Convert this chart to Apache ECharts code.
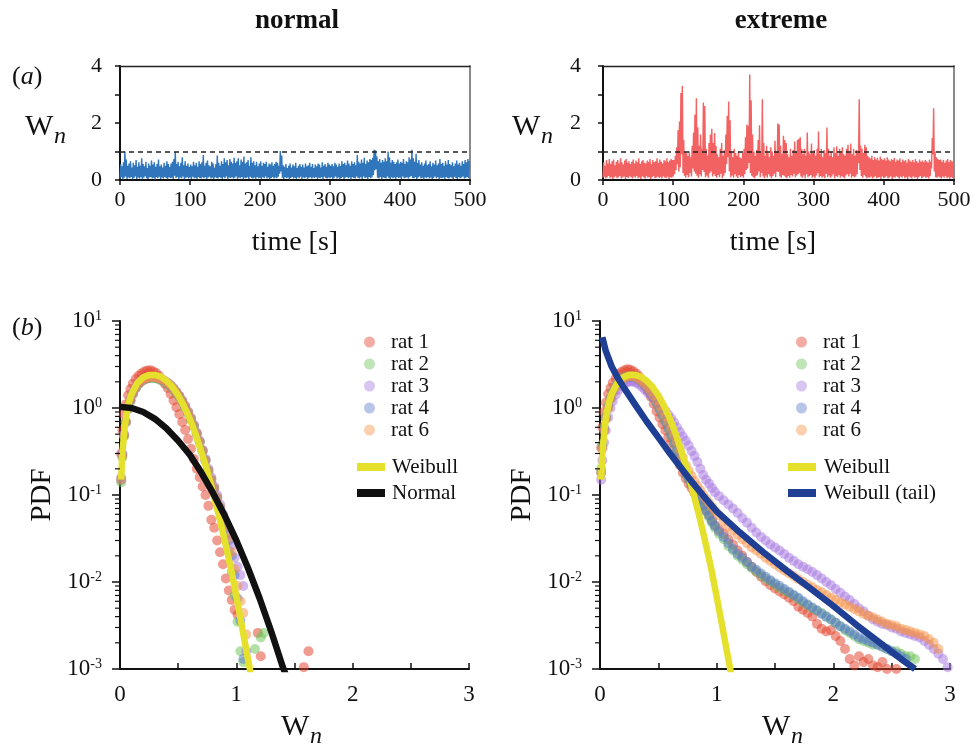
<!DOCTYPE html>
<html><head><meta charset="utf-8">
<script src="https://cdn.jsdelivr.net/npm/echarts@6/dist/echarts.min.js"></script>
<style>html,body{margin:0;padding:0;background:#fff}#c{width:977px;height:746px}</style>
</head><body><div id="c"></div>
<script>
// ---------------- DATA ----------------
const timeStep = 2; // seconds per bin (each bin: min and max of W_n)
const threshold = 1;

const normalHi = [
0.55,0.48,0.62,1.00,0.72,0.50,0.58,0.66,0.44,0.60,
0.52,0.70,0.46,0.62,0.50,0.76,0.56,0.48,0.64,0.42,
0.58,0.50,0.68,0.54,0.62,0.46,0.56,0.72,0.48,0.54,
0.44,0.60,0.50,0.66,0.56,0.46,0.58,0.64,0.74,0.98,
0.56,0.64,0.48,0.60,0.80,0.52,0.66,0.50,0.58,0.46,
0.54,0.48,0.64,0.52,0.60,0.46,0.66,0.56,0.62,0.88,
0.50,0.60,0.68,0.52,0.48,0.64,0.58,0.44,0.56,0.86,
0.60,0.50,0.66,0.56,0.76,0.62,0.70,0.52,0.74,0.64,
0.58,0.78,0.60,0.66,0.76,0.52,0.72,0.64,0.82,0.58,
0.62,0.70,0.50,0.80,0.60,0.66,0.52,0.64,0.48,0.58,
0.66,0.50,0.60,0.56,0.64,0.46,0.58,0.54,0.62,0.50,
0.56,0.64,0.60,0.50,1.02,0.86,0.52,0.46,0.56,0.42,
0.50,0.58,0.44,0.54,0.48,0.60,0.42,0.50,0.56,0.46,
0.54,0.44,0.58,0.48,0.52,0.60,0.46,0.56,0.42,0.54,
0.48,0.58,0.54,0.44,0.62,0.50,0.56,0.46,0.60,0.54,
0.50,0.56,0.48,0.60,0.54,0.46,0.58,0.50,0.66,0.56,
0.60,0.52,0.68,0.58,0.50,0.66,0.56,0.62,0.52,0.88,
0.64,0.58,0.72,0.60,0.78,0.56,0.68,0.62,0.74,0.70,
0.78,1.06,1.04,0.82,0.66,0.74,0.60,0.70,0.64,0.76,
0.66,1.00,0.80,0.60,0.70,0.64,0.56,0.62,0.72,0.58,
0.64,0.60,0.74,0.56,0.66,0.62,0.80,0.72,1.06,0.76,
0.64,0.92,0.60,0.70,0.54,0.62,0.50,0.58,0.68,0.52,
0.56,0.66,0.48,0.60,0.54,0.68,0.52,0.58,0.74,0.56,
0.60,0.50,0.66,0.54,0.70,0.56,0.52,0.62,0.48,0.58,
0.68,0.54,0.60,0.50,0.66,0.56,0.70,0.62,0.74,0.66];
const normalLo = [
0.05,0.10,0.03,0.08,0.12,0.04,0.09,0.06,0.11,0.03,
0.07,0.12,0.04,0.09,0.05,0.10,0.03,0.08,0.13,0.06,
0.04,0.09,0.11,0.05,0.08,0.03,0.10,0.06,0.12,0.04,
0.09,0.05,0.11,0.07,0.03,0.10,0.06,0.08,0.04,0.15,
0.07,0.11,0.04,0.09,0.06,0.12,0.03,0.08,0.10,0.05,
0.09,0.04,0.12,0.06,0.08,0.03,0.11,0.07,0.05,0.10,
0.06,0.10,0.04,0.09,0.12,0.05,0.08,0.03,0.10,0.07,
0.05,0.11,0.08,0.04,0.10,0.06,0.12,0.03,0.09,0.07,
0.10,0.05,0.08,0.12,0.04,0.09,0.06,0.11,0.03,0.08,
0.06,0.10,0.04,0.12,0.07,0.05,0.09,0.03,0.11,0.06,
0.08,0.04,0.10,0.06,0.12,0.05,0.09,0.03,0.07,0.11,
0.05,0.09,0.06,0.12,0.22,0.30,0.08,0.04,0.10,0.06,
0.09,0.03,0.07,0.11,0.05,0.08,0.04,0.10,0.06,0.12,
0.04,0.09,0.06,0.11,0.03,0.08,0.10,0.05,0.09,0.07,
0.11,0.04,0.08,0.06,0.10,0.03,0.12,0.07,0.05,0.09,
0.06,0.10,0.04,0.08,0.12,0.05,0.09,0.03,0.07,0.11,
0.04,0.08,0.11,0.06,0.09,0.03,0.10,0.07,0.05,0.12,
0.08,0.05,0.10,0.04,0.12,0.07,0.09,0.03,0.11,0.06,
0.10,0.18,0.34,0.38,0.08,0.05,0.11,0.04,0.09,0.07,
0.05,0.12,0.08,0.03,0.10,0.06,0.09,0.04,0.11,0.07,
0.09,0.04,0.12,0.06,0.08,0.10,0.05,0.11,0.14,0.07,
0.06,0.10,0.04,0.09,0.12,0.05,0.08,0.03,0.10,0.06,
0.11,0.05,0.09,0.04,0.07,0.12,0.06,0.10,0.03,0.08,
0.06,0.09,0.04,0.11,0.07,0.05,0.10,0.08,0.03,0.12,
0.07,0.04,0.10,0.06,0.09,0.12,0.05,0.08,0.11,0.06];

const extremeHi = [
0.62,0.50,0.70,0.58,0.74,0.56,0.66,0.72,0.52,0.64,
0.70,0.58,0.76,0.62,0.54,0.68,0.74,0.60,0.66,0.56,
0.64,0.72,0.58,0.68,0.62,0.76,0.56,0.66,0.70,0.60,
0.58,0.68,0.64,0.74,0.56,0.70,0.62,0.66,0.76,0.60,
0.72,0.64,0.58,0.70,0.66,0.76,0.62,0.68,0.74,0.70,
0.70,0.85,1.15,1.75,2.05,3.05,3.30,1.40,1.00,0.95,
0.85,1.00,0.80,1.20,1.67,2.30,2.87,1.85,1.20,1.60,
1.10,2.72,2.60,1.10,0.85,1.30,1.60,1.80,1.30,1.65,
1.20,0.90,0.80,1.10,1.30,0.85,1.05,1.60,2.25,2.75,
2.10,1.00,0.80,1.10,0.95,0.85,1.00,0.80,0.75,0.95,
1.10,1.50,1.95,1.90,3.70,2.80,1.60,1.00,0.85,1.05,
1.40,1.92,1.00,2.83,1.30,0.85,1.20,0.95,0.80,1.15,
1.00,0.85,1.38,1.00,1.98,1.95,1.20,0.90,1.55,1.40,
1.30,0.90,0.80,1.10,0.85,1.05,1.35,1.00,1.40,1.45,
1.50,1.10,0.90,1.10,0.85,1.67,1.00,0.90,1.28,0.95,
1.05,0.85,1.10,1.70,0.90,1.10,0.80,1.05,0.95,1.84,
1.10,0.85,1.00,0.80,1.15,0.95,1.18,0.85,1.10,0.95,
1.15,0.90,0.85,1.10,1.24,0.95,1.28,0.90,1.10,0.85,
1.05,0.95,2.83,1.20,1.10,0.95,1.24,1.15,0.85,0.80,
0.75,0.85,0.70,0.80,0.72,0.78,0.68,0.82,0.74,0.70,
0.76,0.68,0.80,0.72,0.66,0.74,0.70,0.78,0.64,0.72,
0.68,0.76,0.62,0.72,0.66,0.70,0.60,0.74,0.68,0.64,
0.70,0.62,0.74,0.66,0.60,0.72,0.64,0.68,0.62,0.70,
0.66,0.60,0.72,0.64,1.47,2.52,1.00,0.80,0.74,0.70,
0.72,0.64,0.70,0.60,0.68,0.74,0.62,0.70,0.66,0.64];
const extremeLo = [
0.08,0.12,0.05,0.10,0.14,0.06,0.11,0.04,0.09,0.13,
0.06,0.10,0.14,0.05,0.09,0.12,0.04,0.11,0.07,0.13,
0.10,0.05,0.12,0.08,0.14,0.06,0.10,0.04,0.12,0.09,
0.05,0.13,0.08,0.11,0.04,0.10,0.14,0.06,0.09,0.12,
0.07,0.11,0.05,0.13,0.09,0.06,0.12,0.04,0.10,0.08,
0.12,0.20,0.35,0.55,0.30,0.45,0.90,0.25,0.15,0.08,
0.18,0.10,0.25,0.12,0.40,0.30,0.22,0.15,0.08,0.20,
0.12,0.35,0.28,0.10,0.16,0.08,0.24,0.30,0.12,0.20,
0.14,0.08,0.18,0.10,0.22,0.06,0.15,0.25,0.55,0.80,
0.30,0.10,0.16,0.08,0.20,0.12,0.06,0.18,0.10,0.14,
0.08,0.20,0.35,0.40,0.60,0.25,0.15,0.10,0.06,0.14,
0.18,0.30,0.10,0.25,0.12,0.06,0.16,0.08,0.20,0.12,
0.06,0.14,0.22,0.10,0.30,0.28,0.12,0.08,0.18,0.15,
0.10,0.06,0.14,0.08,0.18,0.12,0.22,0.10,0.16,0.20,
0.25,0.12,0.08,0.16,0.06,0.20,0.10,0.14,0.18,0.08,
0.12,0.06,0.16,0.25,0.10,0.14,0.08,0.12,0.06,0.22,
0.10,0.16,0.08,0.12,0.20,0.06,0.14,0.10,0.18,0.08,
0.14,0.10,0.06,0.16,0.20,0.12,0.22,0.08,0.14,0.10,
0.12,0.20,0.60,0.35,0.14,0.08,0.18,0.12,0.06,0.10,
0.08,0.12,0.05,0.10,0.13,0.06,0.09,0.11,0.04,0.12,
0.06,0.10,0.13,0.05,0.09,0.12,0.04,0.11,0.08,0.13,
0.10,0.05,0.12,0.08,0.14,0.06,0.10,0.04,0.12,0.09,
0.05,0.13,0.08,0.11,0.04,0.10,0.14,0.06,0.09,0.12,
0.07,0.11,0.05,0.13,0.40,0.90,0.30,0.10,0.08,0.12,
0.09,0.05,0.12,0.08,0.14,0.06,0.10,0.04,0.11,0.07];

// PDF histogram bin centres
const binsNormal = [0.01,0.02,0.035,0.05,0.07,0.09,
0.11,0.135,0.16,0.185,0.21,0.235,0.26,0.285,0.31,0.335,
0.36,0.385,0.41,0.435,0.46,0.485,0.51,0.535,0.56,0.585,
0.61,0.635,0.66,0.685,0.71,0.735,0.76,0.785,0.81,0.835,
0.86,0.885,0.91,0.935,0.96,0.985,1.01,1.035,1.06,1.085,
1.11,1.135,1.16,1.185,1.21,1.235,
1.26,1.30,1.34,1.38,1.42,1.46,1.50,1.54,1.58,1.62,1.66];
const binsExtreme = [0.01,0.02,0.035,0.05,0.07,0.09,
0.11,0.135,0.16,0.185,0.21,0.235,0.26,0.285,0.31,0.335,
0.36,0.385,0.41,0.435,0.46,0.485,0.51,0.535,0.56,0.585,
0.61,0.635,0.66,0.685,0.71,0.735,0.76,0.785,0.81,0.835,
0.86,0.885,0.91,0.935,0.96,0.985,
1.02,1.06,1.10,1.14,1.18,1.22,1.26,1.30,1.34,1.38,
1.42,1.46,1.50,1.54,1.58,1.62,1.66,1.70,1.74,1.78,
1.82,1.86,1.90,1.94,1.98,2.02,2.06,2.10,2.14,2.18,
2.22,2.26,2.30,2.34,2.38,2.42,2.46,2.50,2.54,2.58,
2.62,2.66,2.70,2.74,2.78,2.82,2.86,2.90,2.94,2.98];

const ratNames = ['rat 1','rat 2','rat 3','rat 4','rat 6'];

const normalRat1 = [0.3,0.55,0.85,1.1,1.4,1.65,
1.9,2.15,2.35,2.5,2.62,2.7,2.72,2.65,2.52,2.35,
2.12,1.9,1.7,1.45,1.22,1.02,0.85,0.69,0.56,0.44,
0.34,0.26,0.2,0.16,0.125,0.1,0.075,0.052,0.042,0.03,
0.022,0.016,0.011,0.008,0.0062,0.0048,0.0042,null,null,null,
null,null,null,0.0026,0.0014,null,
null,null,null,null,null,null,null,null,0.00105,0.0016,null];
const normalRat2 = [0.14,0.27,0.47,0.68,0.97,1.2,
1.44,1.68,1.88,2.02,2.12,2.18,2.2,2.2,2.18,2.13,
2.06,1.97,1.87,1.75,1.62,1.47,1.32,1.16,1.0,0.86,
0.73,0.61,0.5,0.4,0.32,0.25,0.19,0.15,0.12,0.092,
0.07,0.052,0.036,0.023,0.013,0.007,0.0035,0.0016,0.0012,null,
null,null,0.0017,null,0.0023,0.0026];
const normalRat3 = [0.16,0.3,0.5,0.7,1.0,1.24,
1.47,1.72,1.92,2.06,2.16,2.22,2.26,2.27,2.25,2.2,
2.13,2.04,1.94,1.82,1.69,1.54,1.38,1.22,1.06,0.91,
0.77,0.64,0.52,0.42,0.33,0.26,0.2,0.16,0.125,0.1,
0.078,0.06,0.046,0.035,0.026,0.019,0.015,0.012,0.009,0.0016];
const normalRat4 = [0.15,0.29,0.49,0.69,0.98,1.22,
1.46,1.7,1.9,2.04,2.14,2.2,2.24,2.25,2.23,2.18,
2.1,2.02,1.92,1.8,1.66,1.51,1.36,1.2,1.04,0.89,
0.75,0.62,0.51,0.41,0.32,0.25,0.19,0.15,0.118,0.093,
0.072,0.055,0.042,0.03,0.02,0.012,0.0065,0.0036,0.0013];
const normalRat6 = [0.15,0.28,0.48,0.69,0.99,1.23,
1.46,1.71,1.91,2.05,2.15,2.21,2.25,2.26,2.24,2.19,
2.12,2.03,1.93,1.81,1.67,1.52,1.36,1.2,1.05,0.9,
0.76,0.63,0.51,0.41,0.32,0.25,0.19,0.15,0.12,0.094,
0.073,0.056,0.043,0.032,0.022,0.014,0.009,0.006,0.0044,0.0025];

const extremeRat1 = [0.35,0.6,0.9,1.15,1.45,1.7,
1.95,2.2,2.45,2.6,2.72,2.78,2.75,2.65,2.5,2.3,
2.05,1.8,1.58,1.35,1.12,0.92,0.78,0.65,0.55,0.46,
0.4,0.33,0.27,0.22,0.18,0.155,0.135,0.12,0.105,0.093,
0.083,0.075,0.066,0.058,0.051,0.045,
0.04,0.036,0.031,0.027,0.023,0.02,0.017,0.015,0.013,0.0115,
0.0102,0.0092,0.0084,0.0078,0.0072,0.0066,0.006,0.0052,0.0048,0.0044,
0.004,0.0033,0.0029,0.0027,0.0028,0.0024,0.0021,0.0017,0.0013,0.0011,
0.0014,0.0012,0.0013,0.0011,0.00105,0.0012,0.001,null,0.001];
const extremeRat2 = [0.2,0.38,0.6,0.8,1.05,1.3,
1.55,1.8,2.0,2.15,2.25,2.3,2.32,2.3,2.25,2.15,
2.0,1.85,1.68,1.5,1.32,1.15,0.98,0.83,0.7,0.58,
0.48,0.39,0.32,0.26,0.21,0.175,0.15,0.13,0.112,0.098,
0.085,0.074,0.064,0.055,0.048,0.042,
0.036,0.031,0.026,0.023,0.02,0.018,0.016,0.0145,0.0132,0.012,
0.011,0.0102,0.0093,0.0086,0.008,0.0075,0.007,0.0064,0.0058,0.0054,
0.005,0.0047,0.0044,0.004,0.0037,0.0034,0.0031,0.0028,0.0026,0.0024,
0.0022,0.0021,0.002,0.0019,0.0019,0.0018,0.0017,0.0016,0.0016,0.0015,
0.0014,0.0014,0.0013];
const extremeRat3 = [0.15,0.25,0.4,0.55,0.78,1.0,
1.2,1.42,1.62,1.78,1.9,1.98,2.02,2.0,1.95,1.86,
1.75,1.62,1.5,1.4,1.3,1.22,1.12,1.02,0.93,0.84,
0.76,0.68,0.6,0.53,0.47,0.42,0.37,0.32,0.28,0.24,
0.2,0.17,0.15,0.135,0.12,0.108,
0.097,0.087,0.078,0.07,0.062,0.054,0.048,0.042,0.037,0.033,
0.03,0.027,0.025,0.023,0.021,0.019,0.0175,0.016,0.015,0.014,
0.013,0.012,0.011,0.01,0.0092,0.0083,0.0075,0.0068,0.0062,0.0056,
0.005,0.0046,0.0041,0.0037,0.0035,0.0033,0.0032,0.003,0.0029,0.0027,
0.0026,0.0025,0.0024,0.0023,0.0021,0.0019,0.0017,0.0015,0.0013,0.00105];
const extremeRat4 = [0.18,0.35,0.56,0.76,1.02,1.27,
1.52,1.77,1.97,2.12,2.22,2.27,2.29,2.27,2.22,2.12,
1.98,1.83,1.66,1.49,1.31,1.14,0.98,0.83,0.7,0.59,
0.49,0.4,0.33,0.27,0.22,0.18,0.155,0.135,0.116,0.1,
0.088,0.077,0.067,0.058,0.05,0.044,
0.038,0.033,0.028,0.024,0.021,0.019,0.017,0.015,0.0138,0.0125,
0.0115,0.0105,0.0097,0.009,0.0083,0.0077,0.0071,0.0066,0.006,0.0055,
0.0051,0.0047,0.0043,0.004,0.0037,0.0034,0.0031,0.0029,0.0027,0.0025,
0.0023,0.0022,0.0021,0.002,0.0019,0.0018,0.0017,0.0016,0.0015,0.0014,
0.0013];
const extremeRat6 = [0.18,0.34,0.55,0.75,1.0,1.25,
1.5,1.75,1.95,2.1,2.22,2.3,2.33,2.3,2.24,2.14,
2.0,1.86,1.7,1.54,1.38,1.22,1.07,0.93,0.8,0.68,
0.57,0.48,0.4,0.33,0.27,0.22,0.19,0.165,0.145,0.128,
0.113,0.1,0.09,0.081,0.073,0.066,
0.058,0.05,0.044,0.039,0.035,0.031,0.028,0.025,0.023,0.021,
0.019,0.0175,0.016,0.0147,0.0136,0.0126,0.0117,0.0108,0.01,0.0093,
0.0087,0.0081,0.0076,0.0071,0.0066,0.0062,0.0058,0.0055,0.0052,0.0049,
0.0046,0.0043,0.0041,0.0039,0.0037,0.0035,0.0033,0.0032,0.0031,0.0029,
0.0028,0.0027,0.0026,0.0025,0.0024,0.0022,0.002,0.0017];

// fitted curves
const weibullX = [0.01,0.02,0.04,0.06,0.08,0.1,0.15,0.2,0.25,0.3,0.35,0.4,0.45,0.5,0.55,0.6,0.65,0.7,0.75,0.8,0.85,0.9,0.95,1.0,1.05,1.1,1.13];
const weibullY = [0.15,0.3,0.6,0.9,1.2,1.45,1.95,2.25,2.4,2.4,2.3,2.05,1.75,1.4,1.05,0.75,0.5,0.31,0.19,0.105,0.058,0.03,0.015,0.0068,0.003,0.0013,0.0008];
const normalFitX = [0,0.1,0.2,0.3,0.4,0.5,0.6,0.7,0.8,0.9,1.0,1.1,1.2,1.3,1.4,1.45];
const normalFitY = [1.03,1.0,0.9,0.75,0.58,0.42,0.29,0.18,0.105,0.058,0.03,0.0145,0.0065,0.0027,0.00105,0.0007];
const tailFitX = [0.02,0.05,0.1,0.15,0.2,0.3,0.4,0.5,0.6,0.7,0.8,0.9,1.0,1.2,1.4,1.6,1.8,2.0,2.2,2.4,2.6,2.7];
const tailFitY = [6.5,4.5,3.0,2.25,1.75,1.1,0.7,0.46,0.3,0.2,0.135,0.093,0.065,0.037,0.022,0.0135,0.0085,0.0053,0.0032,0.002,0.00125,0.001];

const minorTickValues = [0.002,0.003,0.004,0.005,0.006,0.007,0.008,0.009,
0.02,0.03,0.04,0.05,0.06,0.07,0.08,0.09,
0.2,0.3,0.4,0.5,0.6,0.7,0.8,0.9,
2,3,4,5,6,7,8,9];

// ---------------- STYLE ----------------
const FONT = 'Liberation Serif';
const INK = '#111';
const ratRGB = ['226,66,44','110,196,88','168,122,224','92,124,206','248,146,70'];
const dotAlpha = 0.66, legendAlpha = 0.55;

function interleave(hi, lo){
  const d = [];
  hi.forEach((h,i)=>{ d.push([i*timeStep, lo[i]]); d.push([i*timeStep + timeStep/2, h]); });
  return d;
}
function pairs(xs, ys){
  const d = [];
  ys.forEach((y,i)=>{ if (y !== null && y !== undefined) d.push([xs[i], y]); });
  return d;
}
function zipXY(xs, ys){ return xs.map((x,i)=>[x, ys[i]]); }

const grids = [
  {left:120, top:66, width:350, height:114},
  {left:603, top:66, width:351, height:114},
  {left:120, top:321, width:349, height:348},
  {left:600, top:321, width:350, height:348}
];

function timeX(gi){
  return {type:'value', gridIndex:gi, min:0, max:500, interval:100, position:'bottom',
    axisLine:{onZero:false, lineStyle:{color:INK, width:2}},
    axisTick:{inside:false, length:5, lineStyle:{color:INK, width:1.5}},
    axisLabel:{fontFamily:FONT, fontSize:22, color:INK, margin:9},
    splitLine:{show:false}};
}
function wX(gi){
  return {type:'value', gridIndex:gi, min:0, max:3, interval:0.5, position:'bottom',
    axisLine:{onZero:false, lineStyle:{color:INK, width:2}},
    axisTick:{inside:true, length:6, lineStyle:{color:INK, width:1.5}},
    axisLabel:{fontFamily:FONT, fontSize:23, color:INK, margin:14,
      formatter: v => (Math.abs(v - Math.round(v)) < 1e-9 ? String(Math.round(v)) : '')},
    splitLine:{show:false}};
}
function borderX(gi){
  return {type:'value', gridIndex:gi, min:0, max:500, position:'top',
    axisLine:{onZero:false, lineStyle:{color:'#222', width:1.3}},
    axisTick:{show:false}, axisLabel:{show:false}, splitLine:{show:false}};
}
function wnY(gi, margin){
  return {type:'value', gridIndex:gi, min:0, max:4, interval:1,
    axisLine:{onZero:false, lineStyle:{color:INK, width:2}},
    axisTick:{inside:false, length:5, lineStyle:{color:INK, width:1.5}},
    axisLabel:{fontFamily:FONT, fontSize:22, color:INK, margin:margin,
      formatter: v => (v % 2 === 0 ? String(v) : '')},
    splitLine:{show:false}};
}
function borderY(gi){
  return {type:'value', gridIndex:gi, min:0, max:4, position:'right',
    axisLine:{onZero:false, lineStyle:{color:'#8a8a8a', width:2}},
    axisTick:{show:false}, axisLabel:{show:false}, splitLine:{show:false}};
}
function pdfY(gi){
  return {type:'log', logBase:10, gridIndex:gi, min:0.001, max:10,
    axisLine:{onZero:false, lineStyle:{color:INK, width:2}},
    axisTick:{inside:false, length:8, lineStyle:{color:INK, width:1.5}},
    axisLabel:{margin:18, color:INK,
      formatter: v => '{b|10}{s|' + Math.round(Math.log10(v)) + '}',
      rich:{ b:{fontFamily:FONT, fontSize:23, color:INK, lineHeight:24},
             s:{fontFamily:FONT, fontSize:14, color:INK, lineHeight:14, verticalAlign:'top'} }},
    splitLine:{show:false}};
}

const series = [];
// top time series
series.push({type:'line', name:'normal-ts', xAxisIndex:0, yAxisIndex:0, data:interleave(normalHi, normalLo),
  showSymbol:false, symbol:'none', sampling:null, lineStyle:{color:'#2f76bc', width:1.4}, itemStyle:{color:'#2f76bc'},
  markLine:{silent:true, symbol:'none', label:{show:false}, lineStyle:{color:'#222', type:[5,4], width:1.5}, data:[{yAxis:threshold}]}, z:3});
series.push({type:'line', name:'extreme-ts', xAxisIndex:1, yAxisIndex:1, data:interleave(extremeHi, extremeLo),
  showSymbol:false, symbol:'none', sampling:null, lineStyle:{color:'#f26262', width:1.4}, itemStyle:{color:'#f26262'},
  markLine:{silent:true, symbol:'none', label:{show:false}, lineStyle:{color:'#222', type:[5,4], width:1.5}, data:[{yAxis:threshold}]}, z:3});

const normalRats = [normalRat1, normalRat2, normalRat3, normalRat4, normalRat6];
const extremeRats = [extremeRat1, extremeRat2, extremeRat3, extremeRat4, extremeRat6];
ratNames.forEach((nm, k)=>{
  series.push({type:'scatter', name:nm, xAxisIndex:2, yAxisIndex:2, data:pairs(binsNormal, normalRats[k]),
    symbolSize:10, itemStyle:{color:'rgba('+ratRGB[k]+','+dotAlpha+')', borderWidth:0}, z:2});
});
ratNames.forEach((nm, k)=>{
  series.push({type:'scatter', name:nm, xAxisIndex:3, yAxisIndex:3, data:pairs(binsExtreme, extremeRats[k]),
    symbolSize:10, itemStyle:{color:'rgba('+ratRGB[k]+','+dotAlpha+')', borderWidth:0}, z:2});
});
function curve(name, xi, data, color){
  return {type:'line', name:name, xAxisIndex:xi, yAxisIndex:xi, data:data, showSymbol:false, symbol:'none',
    lineStyle:{color:color, width:6.5, cap:'butt', join:'round'}, itemStyle:{color:color}, z:5, clip:true};
}
series.push(curve('Weibull', 2, zipXY(weibullX, weibullY), '#e5e02c'));
series.push(curve('Normal', 2, zipXY(normalFitX, normalFitY), '#111111'));
series.push(curve('Weibull', 3, zipXY(weibullX, weibullY), '#e5e02c'));
series.push(curve('Weibull (tail)', 3, zipXY(tailFitX, tailFitY), '#1f3f94'));

// minor log ticks
[2,3].forEach(ai=>{
  series.push({type:'custom', name:'minor'+ai, xAxisIndex:ai, yAxisIndex:ai, silent:true, clip:false, z:6,
    data: minorTickValues.map(v=>[0, v]),
    renderItem:(params, api)=>{
      const p = api.coord([api.value(0), api.value(1)]);
      return {type:'line', shape:{x1:p[0]-5, y1:p[1], x2:p[0], y2:p[1]}, style:{stroke:INK, lineWidth:1.2}};
    }});
});

function ratLegend(left){
  return {orient:'vertical', left:left, top:326, itemWidth:11, itemHeight:11, itemGap:0, selectedMode:false,
    data:ratNames.map((n,k)=>({name:n, icon:'circle', itemStyle:{color:'rgba('+ratRGB[k]+','+legendAlpha+')'}})),
    textStyle:{fontFamily:FONT, fontSize:21, color:INK, lineHeight:22, padding:[0,0,0,11]}};
}
function lineLegend(left, names, pad){
  return {orient:'vertical', left:left, top:451, itemWidth:28, itemHeight:8, itemGap:4, selectedMode:false,
    icon:'rect', data:names.map(n=>({name:n, icon:'rect'})),
    textStyle:{fontFamily:FONT, fontSize:21, color:INK, lineHeight:22, padding:[0,0,0,pad]}};
}

function txt(text, x, y, size, opts){
  return Object.assign({type:'text', x:x, y:y, silent:true,
    style:Object.assign({text:text, fontFamily:FONT, fontSize:size, fill:INK, align:'left', verticalAlign:'middle'}, opts||{})});
}
function wn(left, cy){
  return [txt('W', left, cy, 30), txt('n', left+29, cy+10, 24, {fontStyle:'italic'})];
}
const graphics = [
  txt('normal', 297, 21, 27, {fontWeight:'bold', align:'center'}),
  txt('extreme', 781, 21, 27, {fontWeight:'bold', align:'center'}),
  {type:'text', x:12, y:77, silent:true, style:{text:'{p|(}{i|a}{p|)}', verticalAlign:'middle',
    rich:{p:{fontFamily:FONT, fontSize:26, fill:INK}, i:{fontFamily:FONT, fontSize:26, fontStyle:'italic', fill:INK}}}},
  {type:'text', x:12, y:328, silent:true, style:{text:'{p|(}{i|b}{p|)}', verticalAlign:'middle',
    rich:{p:{fontFamily:FONT, fontSize:26, fill:INK}, i:{fontFamily:FONT, fontSize:26, fontStyle:'italic', fill:INK}}}},
  ...wn(25, 127), ...wn(512, 127),
  txt('time [s]', 295, 243, 28, {align:'center'}),
  txt('time [s]', 773, 243, 28, {align:'center'}),
  Object.assign(txt('PDF', 0, 0, 29, {align:'center'}), {x:42, y:495, rotation:Math.PI/2}),
  Object.assign(txt('PDF', 0, 0, 29, {align:'center'}), {x:522, y:495, rotation:Math.PI/2}),
  ...wn(281, 727), ...wn(762, 727)
];

const chart = echarts.init(document.getElementById('c'), null, {renderer:'canvas'});
chart.setOption({
  animation:false,
  backgroundColor:'#fff',
  textStyle:{fontFamily:FONT},
  grid:grids,
  xAxis:[timeX(0), timeX(1), wX(2), wX(3), borderX(0), borderX(1)],
  yAxis:[wnY(0, 18), wnY(1, 22), pdfY(2), pdfY(3), borderY(0), borderY(1)],
  legend:[ratLegend(359), lineLegend(352, ['Weibull','Normal'], 2), ratLegend(791), lineLegend(783, ['Weibull','Weibull (tail)'], 3)],
  series:series,
  graphic:graphics
});
</script></body></html>
